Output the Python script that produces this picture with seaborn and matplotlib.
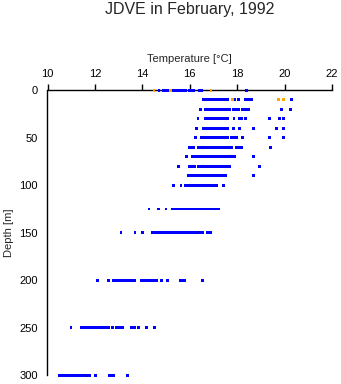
import matplotlib
matplotlib.use("Agg")
import matplotlib.pyplot as plt
import seaborn as sns
import pandas as pd

# ---- data: temperature readings (deg C) at each depth (m) ----
depths = [0, 10, 20, 30, 40, 50, 60, 70, 80, 90, 100, 125, 150, 200, 250, 300]

t_000 = [14.70, 14.90, 14.95, 15.00, 15.07, 15.30, 15.36, 15.42, 15.48, 15.54, 15.60,
         15.66, 15.72, 15.78, 15.83, 16.00, 16.08, 16.15, 16.40, 16.50, 18.40]
t_010 = [16.58, 16.65, 16.72, 16.79, 16.86, 16.93, 17.00, 17.07, 17.14, 17.21, 17.28,
         17.35, 17.42, 17.49, 17.55, 17.60, 17.89, 18.06, 18.34, 18.42, 18.50, 18.60, 20.30]
t_020 = [16.44, 16.68, 16.75, 16.82, 16.89, 16.96, 17.03, 17.10, 17.17, 17.24, 17.31,
         17.38, 17.45, 17.52, 17.59, 17.68, 17.85, 17.92, 17.99, 18.06, 18.24, 18.32,
         18.40, 18.48, 19.87, 20.25]
t_030 = [16.35, 16.68, 16.75, 16.82, 16.89, 16.96, 17.03, 17.10, 17.17, 17.24, 17.31,
         17.38, 17.45, 17.52, 17.60, 17.87, 18.10, 18.17, 18.34, 19.37, 19.77, 19.96]
t_040 = [16.30, 16.58, 16.65, 16.72, 16.79, 16.86, 16.93, 17.00, 17.07, 17.14, 17.21,
         17.28, 17.35, 17.42, 17.49, 17.55, 17.60, 17.85, 18.10, 18.68, 19.65, 19.97]
t_050 = [16.25, 16.48, 16.55, 16.62, 16.69, 16.76, 16.83, 16.90, 16.97, 17.04, 17.11,
         17.18, 17.25, 17.32, 17.39, 17.46, 17.53, 17.60, 17.77, 17.84, 17.92, 17.99,
         18.23, 19.37, 19.96]
t_060 = [15.97, 16.04, 16.10, 16.15, 16.35, 16.42, 16.49, 16.56, 16.63, 16.70, 16.77,
         16.84, 16.91, 16.98, 17.05, 17.12, 17.19, 17.26, 17.33, 17.40, 17.47, 17.54,
         17.61, 17.68, 17.77, 17.98, 18.08, 18.19, 19.42]
t_070 = [15.87, 16.13, 16.25, 16.32, 16.39, 16.46, 16.53, 16.60, 16.67, 16.74, 16.81,
         16.88, 16.95, 17.02, 17.09, 17.16, 17.23, 17.30, 17.37, 17.44, 17.51, 17.58,
         17.65, 17.71, 17.77, 17.89, 18.68]
t_080 = [15.52, 15.98, 16.05, 16.12, 16.22, 16.36, 16.50, 16.57, 16.64, 16.71, 16.78,
         16.85, 16.92, 16.99, 17.06, 17.13, 17.20, 17.24, 17.35, 17.42, 17.49, 17.56,
         17.63, 17.70, 18.94]
t_090 = [15.94, 16.01, 16.08, 16.15, 16.22, 16.29, 16.36, 16.43, 16.50, 16.57, 16.64,
         16.71, 16.78, 16.85, 16.92, 16.99, 17.06, 17.13, 17.20, 17.27, 17.34, 17.41,
         17.48, 17.53, 18.69]
t_100 = [15.31, 15.63, 15.80, 15.87, 15.94, 16.01, 16.08, 16.15, 16.22, 16.29, 16.36,
         16.43, 16.50, 16.57, 16.64, 16.71, 16.78, 16.85, 16.92, 16.99, 17.06, 17.14, 17.42]
t_125 = [14.28, 14.68, 15.00, 15.28, 15.35, 15.42, 15.49, 15.56, 15.63, 15.70, 15.77,
         15.84, 15.91, 15.98, 16.05, 16.12, 16.19, 16.26, 16.33, 16.40, 16.47, 16.54,
         16.61, 16.68, 16.75, 16.82, 16.89, 16.96, 17.03, 17.10, 17.21]
t_150 = [13.10, 13.69, 14.00, 14.44, 14.52, 14.60, 14.72, 14.86, 14.93, 15.00, 15.07,
         15.14, 15.21, 15.28, 15.35, 15.42, 15.49, 15.56, 15.63, 15.70, 15.77, 15.84,
         15.91, 15.98, 16.05, 16.12, 16.19, 16.26, 16.33, 16.40, 16.47, 16.56, 16.75, 16.86]
t_200 = [12.10, 12.57, 12.78, 12.87, 12.96, 13.09, 13.17, 13.25, 13.33, 13.41, 13.49,
         13.57, 13.69, 13.95, 14.03, 14.11, 14.19, 14.27, 14.35, 14.47, 14.61, 14.82,
         15.06, 15.59, 15.68, 15.80, 16.53]
t_250 = [10.99, 11.41, 11.49, 11.57, 11.65, 11.73, 11.81, 11.89, 11.97, 12.05, 12.13,
         12.21, 12.29, 12.36, 12.45, 12.57, 12.74, 12.92, 13.00, 13.08, 13.16, 13.52,
         13.60, 13.69, 13.83, 14.17, 14.51]
t_300 = [10.49, 10.57, 10.65, 10.73, 10.81, 10.89, 10.97, 11.05, 11.13, 11.21, 11.29,
         11.37, 11.45, 11.53, 11.61, 11.69, 11.79, 12.02, 12.60, 12.70, 12.80, 13.37]

# flagged (orange) readings
flag_depth = [0, 0, 0, 10, 10, 10]
flag_temp = [14.49, 15.20, 16.90, 17.79, 19.75, 19.96]

x_ticks = [10, 12, 14, 16, 18, 20, 22]
y_ticks = [0, 50, 100, 150, 200, 250, 300]

# ---- build long table ----
series = [t_000, t_010, t_020, t_030, t_040, t_050, t_060, t_070, t_080, t_090,
          t_100, t_125, t_150, t_200, t_250, t_300]
rows = []
for d, temps in zip(depths, series):
    for t in temps:
        rows.append({"depth": d, "temp": t, "flag": "ok"})
for d, t in zip(flag_depth, flag_temp):
    rows.append({"depth": d, "temp": t, "flag": "flag"})
df = pd.DataFrame(rows)

sns.set_style("white")
plt.rcParams["font.family"] = ["Liberation Sans", "DejaVu Sans"]

fig = plt.figure(figsize=(3.41, 3.84), dpi=100)
ax = fig.add_axes([47.5 / 341, 1 - 375.3 / 384, (332 - 47.5) / 341, (375.3 - 90.3) / 384])

sns.scatterplot(data=df, x="temp", y="depth", hue="flag",
                palette={"ok": "#0000FF", "flag": "#FFA500"},
                marker="s", s=4, linewidth=0, legend=False, ax=ax, clip_on=False,
                zorder=3)

ax.set_xlim(10, 22)
ax.set_ylim(300, 0)
ax.set_xticks(x_ticks)
ax.set_yticks(y_ticks)
ax.xaxis.set_ticks_position("top")
ax.xaxis.set_label_position("top")
for s in ["right", "bottom"]:
    ax.spines[s].set_visible(False)
for s in ["top", "left"]:
    ax.spines[s].set_color("black")
    ax.spines[s].set_linewidth(1.0)
ax.tick_params(axis="both", direction="out", length=4, width=1.0, color="black",
               labelsize=8, labelcolor="black")
ax.tick_params(axis="x", pad=4)
ax.tick_params(axis="y", pad=3)
ax.set_xlabel("Temperature [\u00b0C]", fontsize=8, labelpad=5)
ax.set_ylabel("Depth [m]", fontsize=8, labelpad=4)
ax.grid(False)

fig.text((47.5 + 332) / 2 / 341, 1 - 14 / 384, "JDVE in February, 1992",
         ha="center", va="baseline", fontsize=11.5)

fig.savefig("out.png", dpi=100)
